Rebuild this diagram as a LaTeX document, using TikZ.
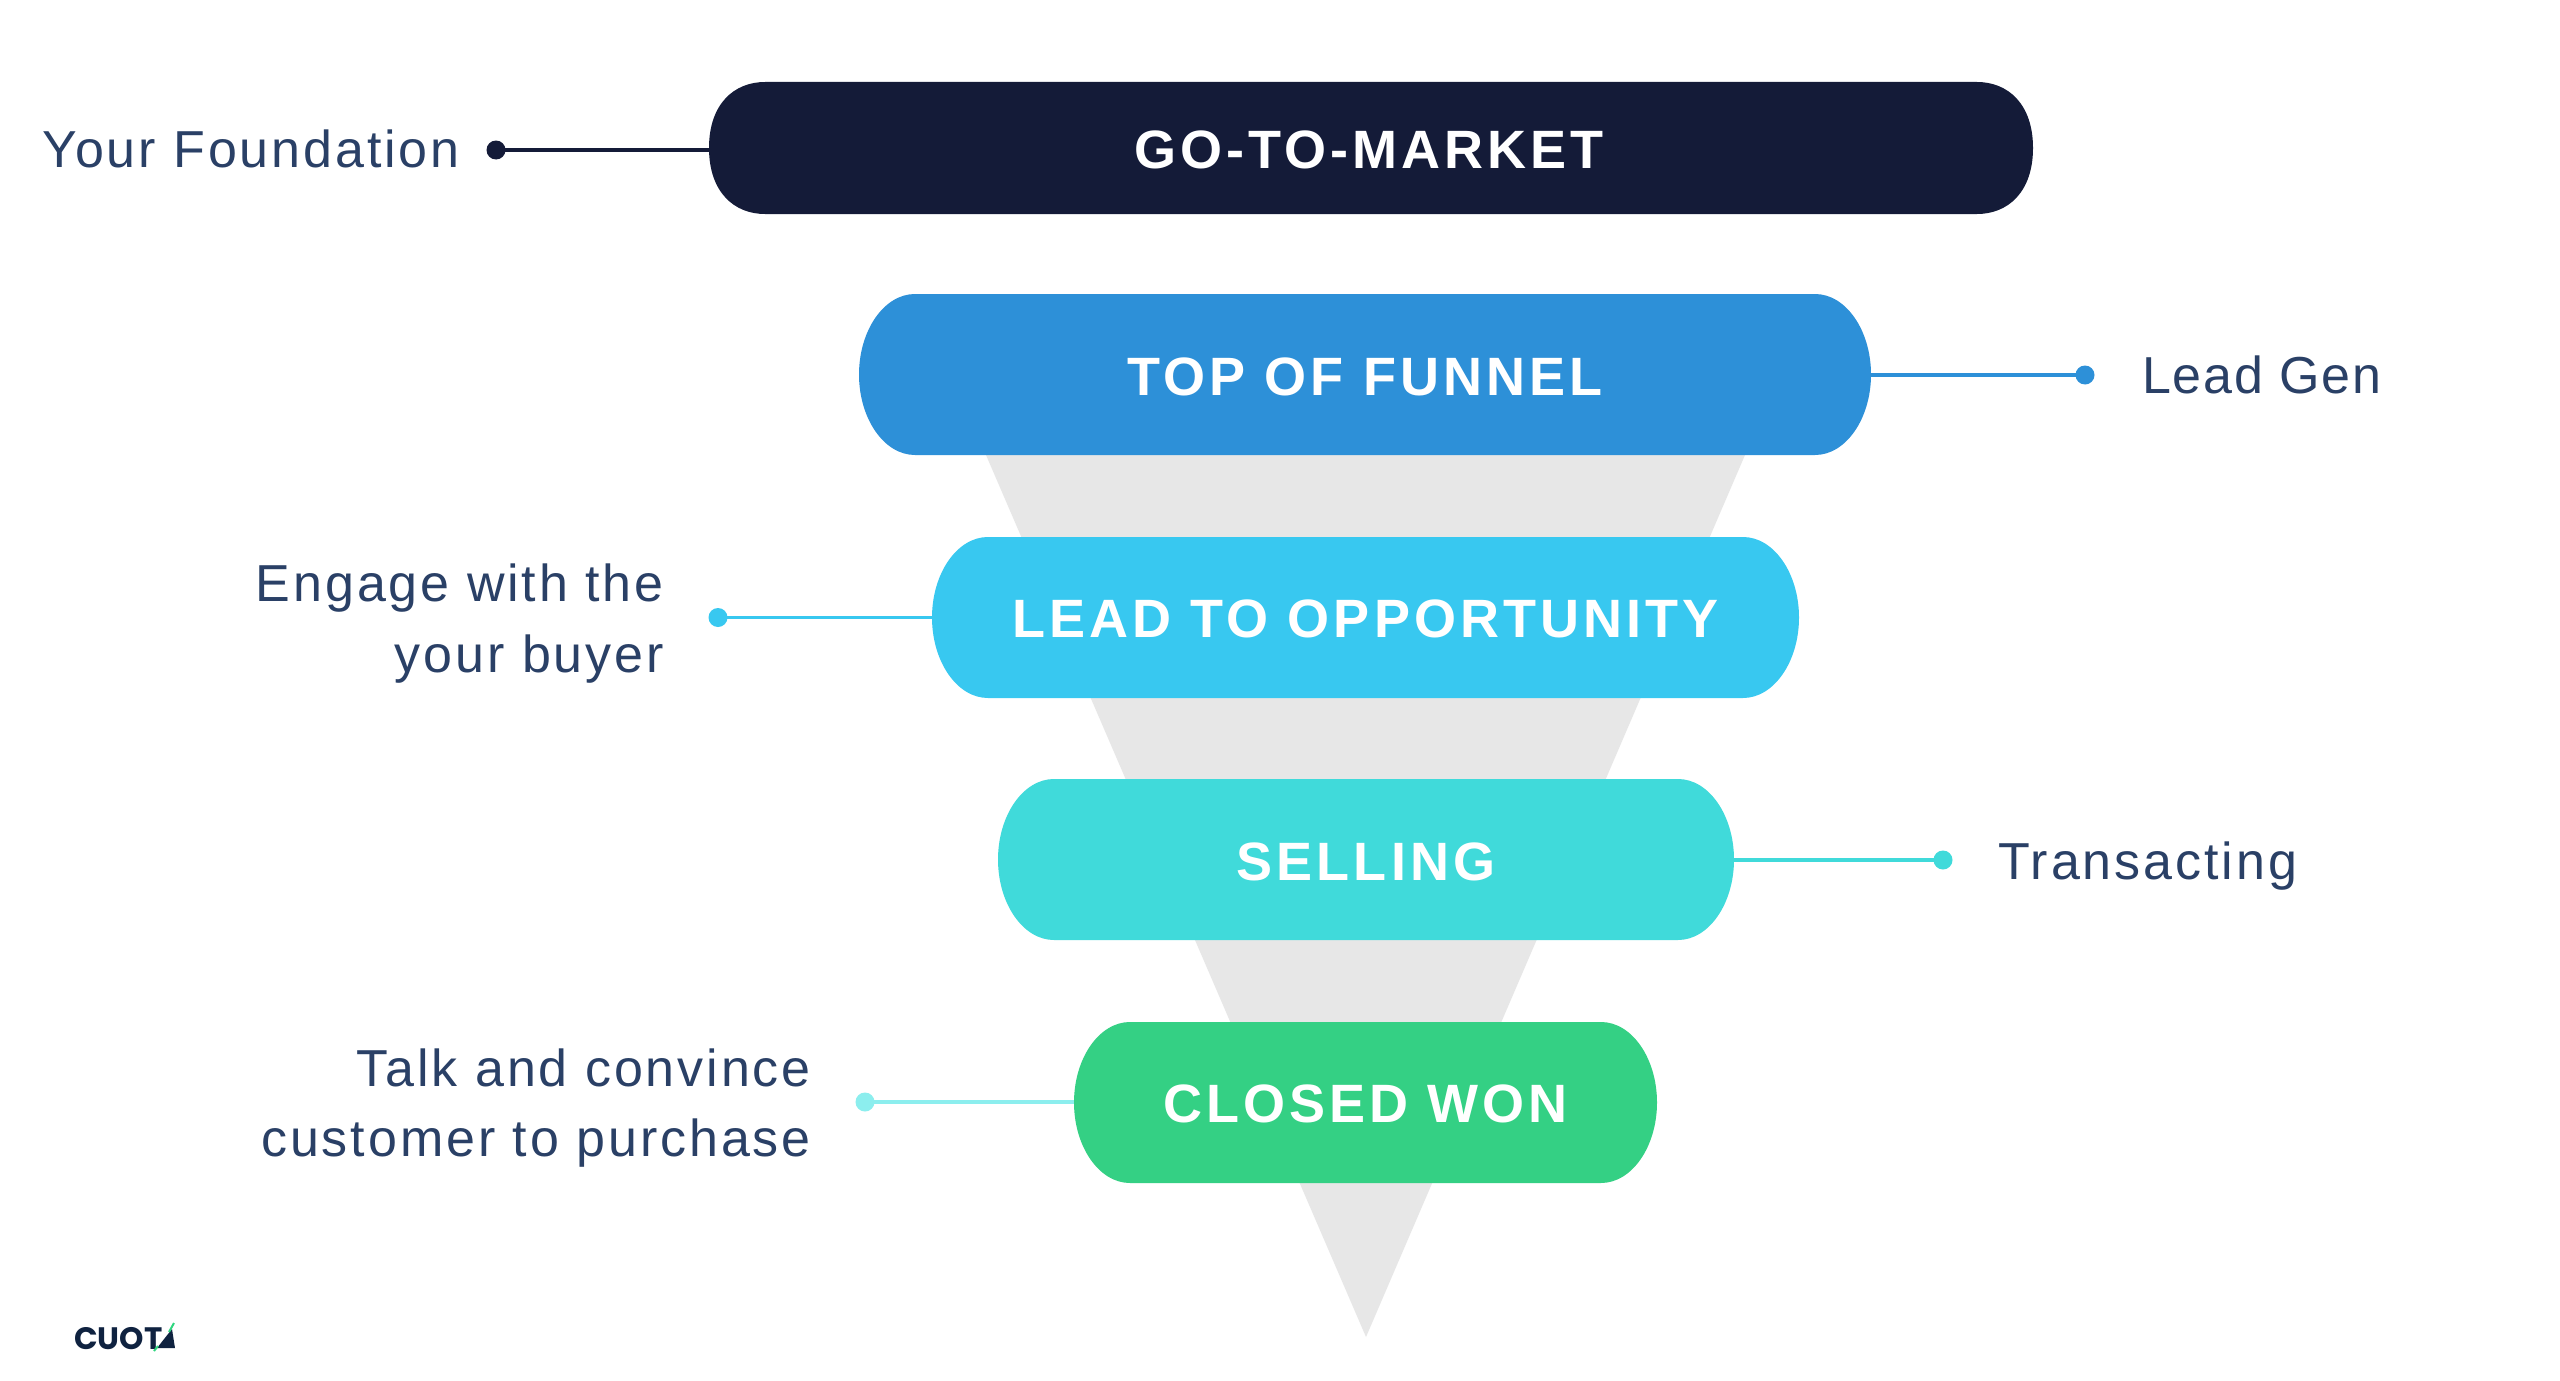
\documentclass[tikz,border=0pt]{standalone}
\usepackage{fontspec}
\setmainfont{Liberation Sans}
\newfontfamily\hdfont[LetterSpace=7.5]{Liberation Sans}
\newfontfamily\lbfont[LetterSpace=5.6]{Liberation Sans}
\newfontfamily\lbtight[LetterSpace=3.5]{Liberation Sans}
\newfontfamily\logofont{Poppins}
\definecolor{cgtm}{HTML}{141B38}
\definecolor{ctof}{HTML}{2D90D8}
\definecolor{clto}{HTML}{38C8F0}
\definecolor{csel}{HTML}{40DADA}
\definecolor{cwon}{HTML}{34D084}
\definecolor{cwonl}{HTML}{8CEEEE}
\definecolor{cfun}{HTML}{E7E7E7}
\definecolor{ctxt}{HTML}{2A4066}
\definecolor{clogo}{HTML}{0F2240}
\definecolor{clogog}{HTML}{2FD67F}
\tikzset{
  stagebar/.style={inner sep=0pt,text=white,font=\hdfont\bfseries\fontsize{54}{60}\selectfont},
  tag/.style={inner sep=0pt,text=ctxt,font=\lbfont\fontsize{52}{71}\selectfont,anchor=base},
  dotnode/.style={circle,inner sep=0pt,minimum size=19pt},
  link/.style={line width=3.5pt}
}
% x1 y1 x2 y2 colour
\newcommand{\pillshape}[5]{%
  \fill[#5] (#1+56,#2) -- (#3-56,#2)
    .. controls (#3-25,#2) and (#3,#2/2+#4/2-44) .. (#3,#2/2+#4/2)
    .. controls (#3,#2/2+#4/2+44) and (#3-25,#4) .. (#3-56,#4)
    -- (#1+56,#4)
    .. controls (#1+25,#4) and (#1,#2/2+#4/2+44) .. (#1,#2/2+#4/2)
    .. controls (#1,#2/2+#4/2-44) and (#1+25,#2) .. (#1+56,#2) -- cycle;}
\begin{document}
\begin{tikzpicture}[x=1pt,y=-1pt]
\useasboundingbox (0,0) rectangle (2560,1381);
\fill[white] (0,0) rectangle (2560,1381);
% funnel
\fill[cfun] (986,455) -- (1745,455) -- (1366,1337) -- cycle;
% bars
\pillshape{709}{82}{2033}{214}{cgtm}
\pillshape{859}{294}{1871}{455}{ctof}
\pillshape{932}{537}{1799}{698}{clto}
\pillshape{998}{779}{1734}{940}{csel}
\pillshape{1074}{1022}{1657}{1183}{cwon}
\node[stagebar,minimum width=1320pt,minimum height=132pt] (gtm) at (1369,150) {GO-TO-MARKET};
\node[stagebar,minimum width=1012pt,minimum height=161pt] (tof) at (1365,377) {TOP OF FUNNEL};
\node[stagebar,minimum width=867pt,minimum height=161pt] (lto) at (1365.5,619) {LEAD TO OPPORTUNITY};
\node[stagebar,minimum width=736pt,minimum height=161pt] (sel) at (1366,862) {SELLING};
\node[stagebar,minimum width=583pt,minimum height=161pt] (won) at (1365.5,1104) {CLOSED WON};
% dots
\node[dotnode,fill=cgtm] (d1) at (496,150) {};
\node[dotnode,fill=ctof] (d2) at (2085,375) {};
\node[dotnode,fill=clto] (d3) at (718,617.5) {};
\node[dotnode,fill=csel] (d4) at (1943,860) {};
\node[dotnode,fill=cwonl] (d5) at (865,1102) {};
% links
\draw[link,cgtm] (d1.center) -- (d1.center -| gtm.west);
\draw[link,ctof] (tof.east |- d2.center) -- (d2.center);
\draw[link,clto] (d3.center) -- (d3.center -| lto.west);
\draw[link,csel] (sel.east |- d4.center) -- (d4.center);
\draw[link,cwonl] (d5.center) -- (d5.center -| won.west);
% labels
\node[tag,anchor=base west] (l1) at (42,167) {Your Foundation};
\node[tag,anchor=base west,font=\lbtight\fontsize{52}{71}\selectfont] (l2) at (2142,393) {Lead Gen};
\node[tag,anchor=base east] (l3a) at (664,601) {Engage with the};
\node[tag,anchor=base east] (l3b) at (664,672) {your buyer};
\node[tag,anchor=base west] (l4) at (1998,879) {Transacting};
\node[tag,anchor=base east] (l5a) at (811,1086) {Talk and convince};
\node[tag,anchor=base east] (l5b) at (811,1156) {customer to purchase};
% logo
\node[inner sep=0pt,anchor=base west,text=clogo,font=\logofont\bfseries\fontsize{31}{31}\selectfont] (logo) at (74,1349) {CUOT};
\fill[clogo] (157,1348) -- (172,1329) -- (175,1348) -- cycle;
\draw[clogog,line width=2pt] (154,1351) -- (158,1346);
\draw[clogog,line width=2pt] (169,1332) -- (174,1323);
\end{tikzpicture}
\end{document}
